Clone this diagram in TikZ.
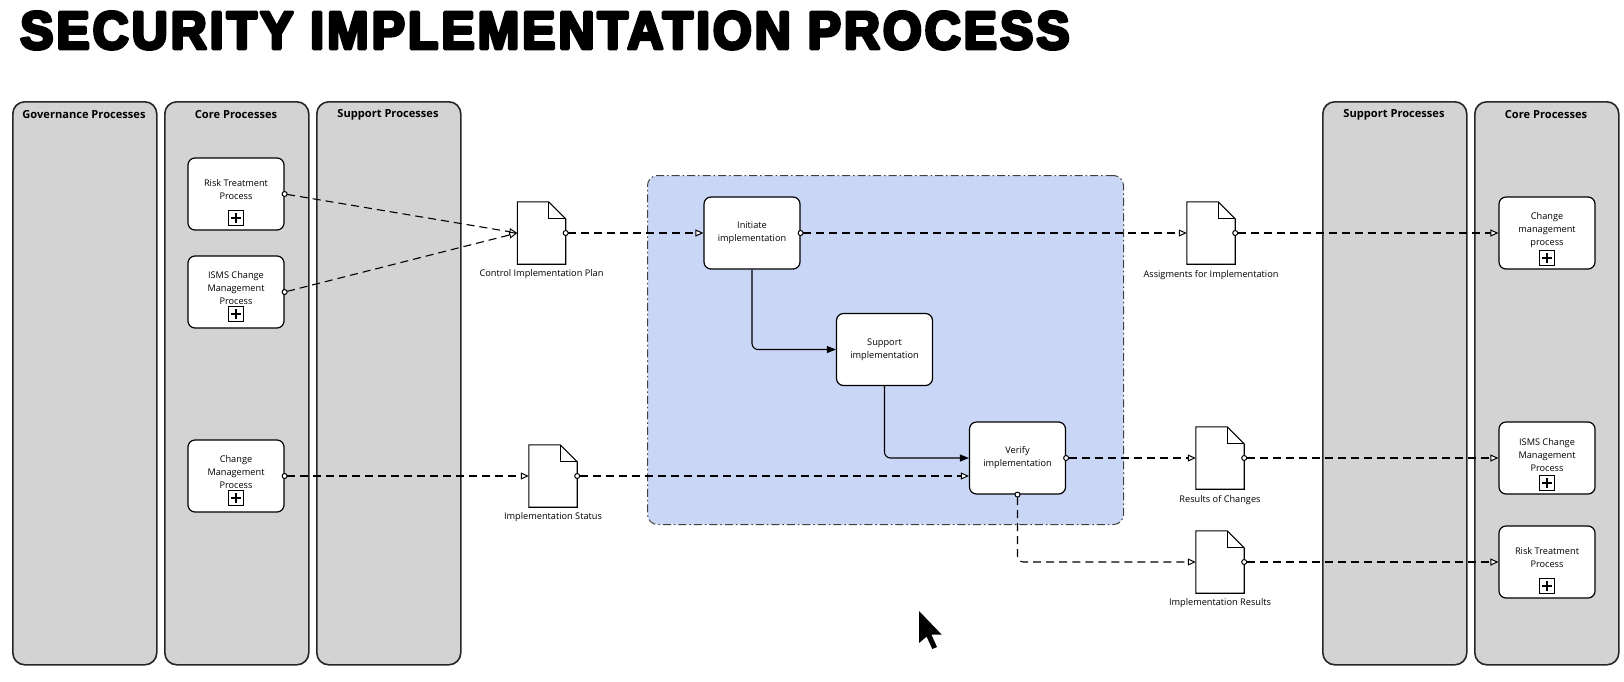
\documentclass[tikz,border=0pt]{standalone}
\usepackage{fontspec}
\usepackage{graphicx}
\setmainfont{Open Sans}
\newfontfamily\titlefont{Liberation Sans}[LetterSpace=6]
\usetikzlibrary{arrows.meta}
\definecolor{lanegray}{RGB}{211,211,211}
\definecolor{grpblue}{RGB}{201,214,246}
\newcommand\mydoc[3]{%
  \node[docbb] (#1) at (#2,#3) {};
  \draw[docline] (#1.north west) -- ([xshift=-17pt]#1.north east) -- ([yshift=-17pt]#1.north east) -- (#1.south east) -- (#1.south west) -- cycle;
  \draw[docline, fill=none] ([xshift=-17pt]#1.north east) |- ([yshift=-17pt]#1.north east);
}
\begin{document}
\begin{tikzpicture}[x=1pt,y=-1pt,
  lane/.style={draw=black!85, line width=1.6pt, fill=lanegray, rounded corners=12pt, minimum width=144pt, minimum height=563pt, anchor=north west, inner sep=0},
  hdr/.style={font=\bfseries\fontsize{11.1}{12}\selectfont, inner sep=0},
  grp/.style={draw=black!75, line width=1pt, dash pattern=on 8pt off 3pt on 1.5pt off 3pt, fill=grpblue, rounded corners=10pt, anchor=north west, inner sep=0},
  proc/.style={draw, fill=white, line width=1.2pt, rounded corners=7pt, minimum width=96pt, minimum height=72pt, inner sep=0, align=center, font=\fontsize{9.2}{13}\selectfont},
  ptext/.style={align=center, font=\fontsize{9.2}{13}\selectfont, inner sep=0},
  plusbox/.style={draw, fill=white, line width=1.1pt, minimum size=15pt, inner sep=0,
    path picture={\fill[black] (path picture bounding box.center) +(-5pt,-1.3pt) rectangle +(5pt,1.3pt);
                  \fill[black] (path picture bounding box.center) +(-1.3pt,-5pt) rectangle +(1.3pt,5pt);}},
  docbb/.style={minimum width=48pt, minimum height=62pt, inner sep=0, draw=none},
  docline/.style={draw, fill=white, line width=1.1pt, line join=miter},
  msg/.style={line width=1.1pt, dash pattern=on 8pt off 5pt,
    {Circle[open,length=6pt,width=6pt,fill=white,line width=1pt]}-{Triangle[open,length=8pt,width=7pt,fill=white,line width=1pt]},
    shorten <=-3pt},
  flow/.style={line width=1.1pt, -{Triangle[length=9pt,width=7pt]}, rounded corners=6pt}
]
\useasboundingbox (0,0) rectangle (1624,681);

% title
\node[anchor=north west, inner sep=0] (title) at (20,11.5) {\resizebox{1049pt}{37pt}{\special{pdf:literal 2 Tr 0.65 w 1 j}\titlefont\bfseries SECURITY IMPLEMENTATION PROCESS\special{pdf:literal 0 Tr 0.4 w 0 j}}};

% lanes
\node[lane] (gov) at (12,101) {};
\node[lane] (coreL) at (164,101) {};
\node[lane] (suppL) at (316,101) {};
\node[lane] (suppR) at (1322,101) {};
\node[lane] (coreR) at (1474,101) {};
\node[hdr] (govh) at (84,115) {Governance Processes};
\node[hdr] (coreLh) at (236,115) {Core Processes};
\node[hdr] (suppLh) at (388,115) {Support Processes};
\node[hdr] (suppRh) at (1394,115) {Support Processes};
\node[hdr] (coreRh) at (1546,115) {Core Processes};

% group
\node[grp, minimum width=476pt, minimum height=349pt] (grpbox) at (647,175) {};

% left core processes
\node[proc] (riskL) at (236,194) {};
\node[ptext] (riskLt) at (236,190) {Risk Treatment\\Process};
\node[plusbox] (riskLp) at (236,218) {};
\node[proc] (ismsL) at (236,292) {};
\node[ptext] (ismsLt) at (236,288) {ISMS Change\\Management\\Process};
\node[plusbox] (ismsLp) at (236,314) {};
\node[proc] (changeL) at (236,476) {};
\node[ptext] (changeLt) at (236,472) {Change\\Management\\Process};
\node[plusbox] (changeLp) at (236,498) {};

% right core processes
\node[proc] (changeR) at (1547,233) {};
\node[ptext] (changeRt) at (1547,230) {Change\\management\\process};
\node[plusbox] (changeRp) at (1547,258) {};
\node[proc] (ismsR) at (1547,458) {};
\node[ptext] (ismsRt) at (1547,455) {ISMS Change\\Management\\Process};
\node[plusbox] (ismsRp) at (1547,483) {};
\node[proc] (riskR) at (1547,562) {};
\node[ptext] (riskRt) at (1547,558) {Risk Treatment\\Process};
\node[plusbox] (riskRp) at (1547,586) {};

% tasks
\node[proc] (init) at (752,233) {Initiate\\implementation};
\node[proc] (support) at (884.5,349.5) {Support\\implementation};
\node[proc] (verify) at (1017.5,458) {Verify\\implementation};

% documents
\mydoc{cip}{541.5}{233}
\mydoc{status}{553}{476}
\mydoc{assign}{1211}{233}
\mydoc{results}{1220}{458}
\mydoc{implres}{1220}{562}
\node[ptext] (cipl) at (541.5,274) {Control Implementation Plan};
\node[ptext] (statusl) at (553,517) {Implementation Status};
\node[ptext] (assignl) at (1211,275) {Assigments for Implementation};
\node[ptext] (resultsl) at (1220,500) {Results of Changes};
\node[ptext] (implresl) at (1220,603) {Implementation Results};

% message flows
\draw[msg] (riskL.east) -- (cip.west);
\draw[msg] (ismsL.east) -- (cip.west);
\draw[msg] (cip.east) -- (init.west);
\draw[msg] (init.east) -- (assign.west);
\draw[msg] (assign.east) -- (changeR.west);
\draw[msg] (changeL.east) -- (status.west);
\draw[msg] (status.east) -- (status.east -| verify.west);
\draw[msg] (verify.east) -- (results.west);
\draw[msg] (results.east) -- (ismsR.west);
\draw[msg, rounded corners=6pt] (verify.south) |- (implres.west);
\draw[msg] (implres.east) -- (riskR.west);

% sequence flows
\draw[flow] (init.south) |- (support.west);
\draw[flow] (support.south) |- (verify.west);

% mouse cursor
\fill[black] (919,611) -- (919,643) -- (926.6,636.6) -- (932.3,649) -- (937,647) -- (931.4,634.7) -- (941.8,634.7) -- cycle;
\end{tikzpicture}
\end{document}
